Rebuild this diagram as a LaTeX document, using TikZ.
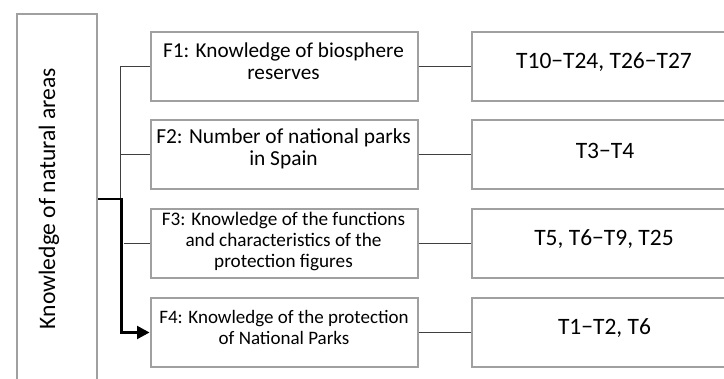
\documentclass[tikz,border=0pt]{standalone}
\usepackage{fontspec}
\setmainfont{Carlito}
\usetikzlibrary{arrows.meta}
\definecolor{boxgrey}{HTML}{A0A0A0}
\definecolor{linegrey}{HTML}{3F3F3F}
\tikzset{
  fbox/.style={draw=boxgrey, line width=2pt, rectangle, minimum width=267pt, minimum height=69pt, inner sep=0pt},
  tbox/.style={draw=boxgrey, line width=2pt, rectangle, minimum width=267pt, minimum height=69pt, inner sep=0pt},
  ftext/.style={align=center, inner sep=0pt},
  ttext/.style={font=\fontsize{23.5pt}{26pt}\selectfont, inner sep=0pt},
  conn/.style={draw=linegrey, line width=1.3pt},
  trunk/.style={draw=black, line width=2.2pt},
}
\begin{document}
\begin{tikzpicture}[x=1pt,y=-1pt]
\clip (0,0) rectangle (724,379);
\fill[white] (0,0) rectangle (724,379);
% left box
\node[draw=boxgrey, line width=2pt, rectangle, minimum width=80pt, minimum height=420pt, inner sep=0pt] (main) at (57,224) {};
\node[rotate=90, anchor=base, font=\fontsize{23.6pt}{26pt}\selectfont, inner sep=0pt] (maint) at (55,198.5) {Knowledge of natural areas};
% F boxes
\node[fbox] (f1) at (284,66.5) {};
\node[fbox] (f2) at (284,154.5) {};
\node[fbox] (f3) at (284,243.5) {};
\node[fbox] (f4) at (284,332.5) {};
\node[ftext, font=\fontsize{21.2pt}{22pt}\selectfont] (f1t) at (283.5,61) {F1: Knowledge of biosphere\\reserves};
\node[ftext, font=\fontsize{21.4pt}{22pt}\selectfont] (f2t) at (283.5,149) {F2: Number of national parks\\in Spain};
\node[ftext, font=\fontsize{19.2pt}{21.3pt}\selectfont] (f3t) at (283.5,241.5) {F3: Knowledge of the functions\\and characteristics of the\\protection figures};
\node[ftext, font=\fontsize{19pt}{21pt}\selectfont] (f4t) at (284,327) {F4: Knowledge of the protection\\of National Parks};
% T boxes
\node[tbox] (t1) at (605,66.5) {};
\node[tbox] (t2) at (605,154.5) {};
\node[tbox] (t3) at (605,243.5) {};
\node[tbox] (t4) at (605,332.5) {};
\node[ttext] (t1t) at (604,62) {T10\char"2212 T24, T26\char"2212 T27};
\node[ttext] (t2t) at (605,150.5) {T3\char"2212 T4};
\node[ttext] (t3t) at (604,239.5) {T5, T6\char"2212 T9, T25};
\node[ttext] (t4t) at (604.5,328) {T1\char"2212 T2, T6};
% bus
\coordinate (bustop) at (120.5,66.5);
\coordinate (busbot) at (120.5,266);
\draw[conn] (bustop) -- (busbot);
\draw[conn] (bustop) -- (f1.west);
\draw[conn] (120.5,154.5) -- (f2.west);
\draw[conn] (124,243.5) -- (f3.west);
\draw[trunk, -{Triangle[length=12.5pt,width=13pt]}] (main.east |- 0,199) -- (121.5,199) |- (f4.west);
% F to T
\draw[conn] (f1.east) -- (t1.west);
\draw[conn] (f2.east) -- (t2.west);
\draw[conn] (f3.east) -- (t3.west);
\draw[conn] (f4.east) -- (t4.west);
\end{tikzpicture}
\end{document}
